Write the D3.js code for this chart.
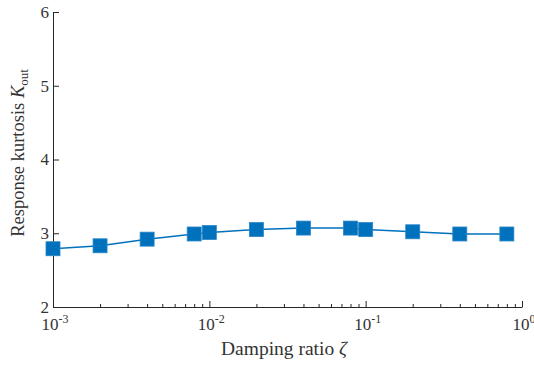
<!DOCTYPE html>
<html>
<head>
<meta charset="utf-8">
<script src="https://cdn.jsdelivr.net/npm/d3@7"></script>
<style>
  body { margin: 0; background: #fff; }
  text { font-family: "Liberation Serif", "Times New Roman", serif; fill: #333; }
</style>
</head>
<body>
<svg width="534" height="367"></svg>
<script>
// damping ratio values and response kurtosis
const zeta = [0.001, 0.002, 0.004, 0.008, 0.01, 0.02, 0.04, 0.08, 0.1, 0.2, 0.4, 0.8];
const kurt = [2.79, 2.83, 2.92, 2.99, 3.01, 3.05, 3.07, 3.07, 3.05, 3.02, 2.99, 2.99];
const xTicks = [1e-3, 1e-2, 1e-1, 1e0];
const xTickExp = ['-3', '-2', '-1', '0'];
const yTicks = [2, 3, 4, 5, 6];

const svg = d3.select('svg');
const m = {left: 53, right: 12, top: 12, bottom: 60};
const W = 534, H = 367;

const x = d3.scaleLog().domain([1e-3, 1]).range([m.left, W - m.right]);
const y = d3.scaleLinear().domain([2, 6]).range([H - m.bottom, m.top]);

const axisColor = '#262626';

// x axis with minor ticks, inward
const minor = [];
for (let e = -3; e < 0; e++) for (let k = 2; k <= 9; k++) minor.push(k * Math.pow(10, e));

const gx = svg.append('g').attr('transform', `translate(0,${H - m.bottom})`);
gx.call(d3.axisBottom(x).tickValues(minor).tickSize(-3).tickFormat(''));
gx.call(g => g.select('.domain').remove());
const gx2 = svg.append('g').attr('transform', `translate(0,${H - m.bottom})`);
gx2.call(d3.axisBottom(x).tickValues(xTicks).tickSize(-6).tickSizeOuter(0).tickFormat(''));
svg.selectAll('.tick line').attr('stroke', axisColor);
gx2.select('.domain').attr('stroke', axisColor);

// x tick labels 10^n
xTicks.forEach((v, i) => {
  const t = svg.append('text').attr('x', x(v) + 2).attr('y', H - m.bottom + 23)
    .attr('text-anchor', 'middle').style('font-size', '17px');
  t.append('tspan').text('10');
  t.append('tspan').attr('dy', -7).style('font-size', '12px').text(xTickExp[i]);
});

// y axis
const gy = svg.append('g').attr('transform', `translate(${m.left},0)`);
gy.call(d3.axisLeft(y).tickValues(yTicks).tickSize(-6).tickSizeOuter(0).tickPadding(5).tickFormat(d3.format('d')));
gy.selectAll('text').style('font-size', '17px').attr('fill', '#333');
gy.selectAll('line').attr('stroke', axisColor);
gy.select('.domain').attr('stroke', axisColor);
gy.selectAll('.tick text').attr('x', -4);

// line and markers
const line = d3.line().x((d, i) => x(zeta[i])).y(d => y(d));
svg.append('path').datum(kurt).attr('d', line)
  .attr('fill', 'none').attr('stroke', '#0072BD').attr('stroke-width', 1.5);

const s = 14;
svg.selectAll('rect.mk').data(kurt).join('rect').attr('class', 'mk')
  .attr('x', (d, i) => x(zeta[i]) - s / 2).attr('y', d => y(d) - s / 2)
  .attr('width', s).attr('height', s)
  .attr('fill', '#0072BD').attr('stroke', '#2a86c8').attr('stroke-width', 0.8);

// axis titles
const xl = svg.append('text').attr('x', 284).attr('y', 355)
  .attr('text-anchor', 'middle').style('font-size', '19.5px');
xl.append('tspan').text('Damping ratio ');
xl.append('tspan').style('font-style', 'italic').text('ζ');

const yl = svg.append('text').attr('transform', `translate(24,153) rotate(-90)`)
  .attr('text-anchor', 'middle').style('font-size', '18.5px');
yl.append('tspan').text('Response kurtosis ');
yl.append('tspan').style('font-style', 'italic').text('K');
yl.append('tspan').attr('dy', 4).style('font-size', '13px').text('out');
</script>
</body>
</html>
